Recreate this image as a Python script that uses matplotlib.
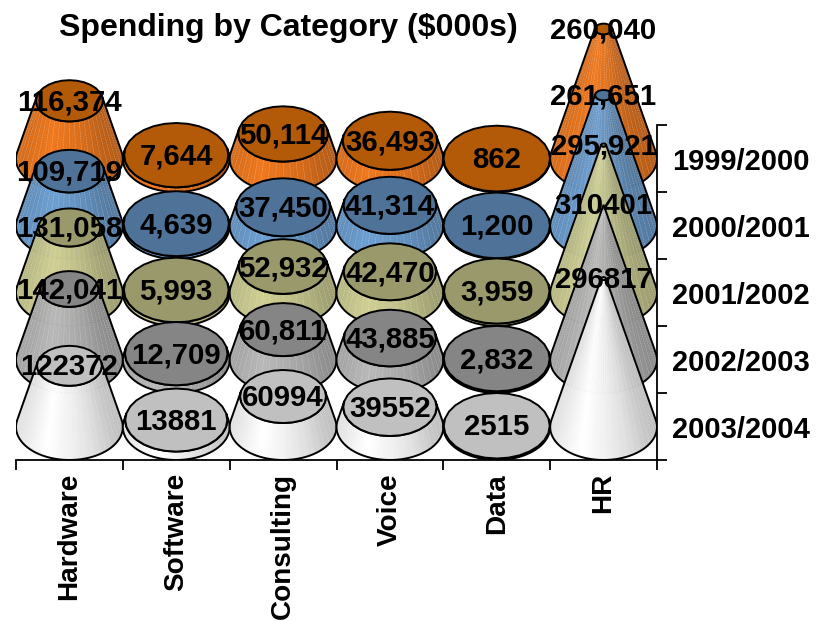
"""Spending by category drawn as rows of truncated cones, one row per financial year."""

import matplotlib

matplotlib.use("Agg")

import matplotlib.pyplot as plt
import numpy as np
from matplotlib.collections import LineCollection, PolyCollection
from matplotlib.patches import Polygon

CATEGORIES = ["Hardware", "Software", "Consulting", "Voice", "Data", "HR"]
YEARS = ["1999/2000", "2000/2001", "2001/2002", "2002/2003", "2003/2004"]

# 数据标签原样保留 (部分没有千位分隔符)
SPEND_1999 = ["116,374", "7,644", "50,114", "36,493", "862", "260,040"]
SPEND_2000 = ["109,719", "4,639", "37,450", "41,314", "1,200", "261,651"]
SPEND_2001 = ["131,058", "5,993", "52,932", "42,470", "3,959", "295,921"]
SPEND_2002 = ["142,041", "12,709", "60,811", "43,885", "2,832", "310401"]
SPEND_2003 = ["122372", "13881", "60994", "39552", "2515", "296817"]
SPEND_BY_YEAR = [SPEND_1999, SPEND_2000, SPEND_2001, SPEND_2002, SPEND_2003]

SIDE_COLORS = ["#F0781C", "#6C9FD2", "#CFCF93", "#B8B8B8", "#FFFFFF"]
TOP_COLORS = ["#B25A08", "#4F7299", "#99996B", "#858585", "#C0C0C0"]

FONT = "Liberation Sans"
LABEL_SIZE = 21.2
YEAR_SIZE = 21
CATEGORY_SIZE = 20.1
TITLE_SIZE = 23
EDGE_WIDTH = 1.4

# 深度方向用与数值相同的单位: 1 像素 = 2000
ROW_STEP = 134000
BASE_RY = 66000
BASE_RX = 0.5
FACETS = 48
LABEL_LIFT = 3000

# 侧面明暗: 横向位置 cos(theta) -> 亮度系数
SHADE_X = [-1.0, -0.75, -0.45, 0.0, 0.45, 0.8, 1.0]
SHADE_K = [0.88, 0.94, 1.0, 0.95, 0.88, 0.79, 0.75]


def to_value(label):
    return int(label.replace(",", ""))


def ellipse_points(cx, cy, rx, ry, thetas):
    return np.column_stack((cx + rx * np.cos(thetas), cy + ry * np.sin(thetas)))


def draw_cone(ax, cx, base_y, value, max_value, side_color, top_color, zorder):
    """画一个截锥: 侧面分条着色，轮廓和顶面单独描边。"""
    ratio = 1.0 - value / max_value
    top_y = base_y + value
    rx = BASE_RX * ratio
    ry = BASE_RY * ratio

    # 可见弧段由从锥顶到底面椭圆的切点决定
    tangent = np.arcsin(BASE_RY / max_value)
    thetas = np.linspace(np.pi - tangent, 2 * np.pi + tangent, FACETS + 1)
    lower = ellipse_points(cx, base_y, BASE_RX, BASE_RY, thetas)
    upper = ellipse_points(cx, top_y, rx, ry, thetas)

    strips = []
    colors = []
    rgb = np.array(matplotlib.colors.to_rgb(side_color))
    for i in range(FACETS):
        strips.append([lower[i], lower[i + 1], upper[i + 1], upper[i]])
        mid = np.cos((thetas[i] + thetas[i + 1]) / 2)
        colors.append(rgb * np.interp(mid, SHADE_X, SHADE_K))
    ax.add_collection(
        PolyCollection(strips, facecolors=colors, edgecolors="face", linewidths=0.4, zorder=zorder)
    )

    # 条带之间的细亮线
    seams = [[lower[i], upper[i]] for i in range(2, FACETS, 2)]
    ax.add_collection(
        LineCollection(
            seams, colors="white", linewidths=0.5, alpha=0.3,
            linestyles=(0, (2, 1.5)), zorder=zorder,
        )
    )

    outline = np.vstack((lower, upper[::-1]))
    ax.add_patch(
        Polygon(outline, closed=True, fill=False, edgecolor="black", linewidth=EDGE_WIDTH, zorder=zorder)
    )

    top_thetas = np.linspace(0, 2 * np.pi, 29)
    ax.add_patch(
        Polygon(
            ellipse_points(cx, top_y, rx, ry, top_thetas),
            closed=True,
            facecolor=top_color,
            edgecolor="black",
            linewidth=EDGE_WIDTH,
            zorder=zorder,
        )
    )


def main():
    fig = plt.figure(figsize=(8.2, 6.21), dpi=100)
    ax = fig.add_axes([16 / 820, 161 / 621, 641 / 820, 460 / 621])
    ax.set_xlim(0, len(CATEGORIES))
    ax.set_ylim(0, 920000)
    ax.patch.set_visible(False)

    max_value = max(to_value(label) for row in SPEND_BY_YEAR for label in row)
    n_rows = len(YEARS)
    zorder = 5
    for row, labels in enumerate(SPEND_BY_YEAR):
        base_y = BASE_RY + ROW_STEP * (n_rows - 1 - row)
        for col, label in enumerate(labels):
            value = to_value(label)
            draw_cone(
                ax, col + 0.5, base_y, value, max_value,
                SIDE_COLORS[row], TOP_COLORS[row], zorder,
            )
            zorder += 1
            ax.text(
                col + 0.5, base_y + value + LABEL_LIFT, label,
                ha="center", va="center_baseline", family=FONT,
                fontsize=LABEL_SIZE, fontweight="bold", zorder=100,
            )

    for side in ("top", "left"):
        ax.spines[side].set_visible(False)
    ax.spines["right"].set_bounds(0, ROW_STEP * n_rows)
    for side in ("bottom", "right"):
        ax.spines[side].set_linewidth(1.3)

    ax.set_xticks(np.arange(len(CATEGORIES) + 1))
    ax.set_xticklabels([])
    ax.set_xticks(np.arange(len(CATEGORIES)) + 0.5, minor=True)
    ax.set_xticklabels(
        CATEGORIES, minor=True, rotation=90, family=FONT,
        fontsize=CATEGORY_SIZE, fontweight="bold",
    )

    ax.yaxis.tick_right()
    ax.set_yticks(ROW_STEP * np.arange(n_rows + 1))
    ax.set_yticklabels([])
    ax.set_yticks(BASE_RY + ROW_STEP * np.arange(n_rows), minor=True)
    ax.set_yticklabels(
        YEARS[::-1], minor=True, family=FONT,
        fontsize=YEAR_SIZE, fontweight="bold",
    )
    ax.tick_params(which="major", length=7, width=1.3, direction="out")
    ax.tick_params(axis="x", which="minor", length=0, pad=9.4)
    ax.tick_params(axis="y", which="minor", length=0, pad=11)

    fig.text(
        288 / 820, 1 - 28 / 621, "Spending by Category ($000s)",
        ha="center", va="center", family=FONT,
        fontsize=TITLE_SIZE, fontweight="bold",
    )
    fig.savefig("out.png", dpi=100)
    plt.close(fig)


if __name__ == "__main__":
    main()
